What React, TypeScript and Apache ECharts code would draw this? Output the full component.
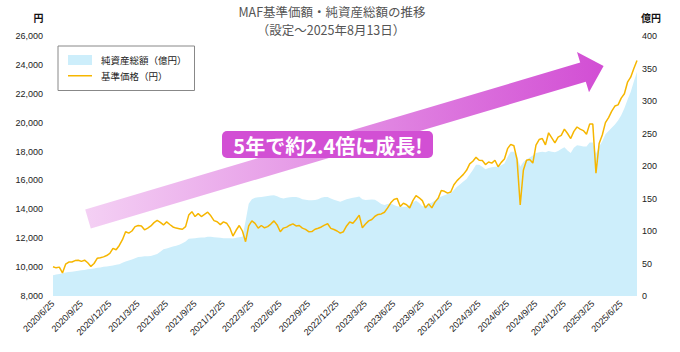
import { useEffect, useRef } from 'react';
import * as echarts from 'echarts';

const CJK = '"Noto Sans CJK JP", "Liberation Sans", sans-serif';
const LAT = '"Liberation Sans", Arial, sans-serif';

const NAV_NAME = '純資産総額（億円）';
const PRICE_NAME = '基準価格（円）';

// Date categories: set date, then the 5th / 15th / 25th of each month, to 2025/8/13
const dates: string[] = ['2020/6/25'];
for (let y = 2020, m = 7; y < 2025 || (y === 2025 && m <= 7); ) {
  dates.push(`${y}/${m}/5`, `${y}/${m}/15`, `${y}/${m}/25`);
  m++;
  if (m > 12) { m = 1; y++; }
}
dates.push('2025/8/5', '2025/8/13');

// 基準価格（円）
const price: number[] = [
  10030, 9950, 10000, 9600, 10200, 10350, 10350, 10450, 10480, 10400,
  10480, 10300, 10050, 10250, 10610, 10650, 10710, 10800, 10950, 11300,
  11200, 11500, 11900, 12450, 12350, 12500, 12800, 12880, 12850, 12580,
  12700, 12850, 13080, 13230, 13100, 12920, 13130, 12950, 12780, 12700,
  12660, 12620, 12800, 13600, 13840, 13500, 13700, 13500, 13650, 13800,
  13550, 13220, 13140, 12940, 13130, 13040, 12720, 12150, 12550, 12880,
  12500, 11760, 12850, 13200, 13030, 12700, 12880, 12720, 12800, 12980,
  13200, 12920, 12450, 12700, 12770, 12900, 12990, 12850, 12880, 12700,
  12610, 12450, 12460, 12620, 12690, 12780, 12910, 13000, 12680, 12600,
  12500, 12350, 12450, 12850, 13120, 13040, 13300, 13600, 12720, 12980,
  13200, 13300, 13520, 13650, 13680, 13800, 14100, 14450, 14680, 14760,
  14200, 14420, 14320, 14100, 14600, 14950, 14800, 14600, 14100, 14380,
  14100, 14500, 14760, 15300, 15250, 15120, 15200, 15700, 15990, 16200,
  16420, 16700, 17150, 17330, 17600, 17400, 17380, 17100, 17280, 17200,
  17400, 16950, 17250, 17480, 18200, 18500, 18400, 17450, 14300, 16700,
  17400, 17450, 17200, 18450, 18830, 18900, 18460, 19300, 18950, 18600,
  19000, 19120, 19550, 19250, 18900, 19400, 19700, 19550, 19450, 19200,
  19900, 19900, 16500, 18550, 19150, 20000, 20350, 20800, 21150, 21230,
  21700, 22000, 22800, 23150, 23750, 24300,
];

// 純資産総額（億円）
const nav: number[] = [
  32, 33, 34, 35, 36, 37, 37.5, 38, 39, 39.5,
  40, 41, 41.5, 42.5, 43.5, 44, 45, 45.5, 46, 47,
  48, 49, 51, 53, 54.5, 56, 58, 60, 60.5, 61,
  61, 61.5, 63, 64.5, 68, 72, 73, 74.5, 76, 77.5,
  79, 81, 84, 88, 88.5, 89, 89.5, 90, 90, 91,
  91, 90.5, 90, 89.5, 89, 89, 89, 88.5, 89.5, 90.5,
  91, 115, 142, 149, 151, 152, 152.5, 153, 154, 154.5,
  155, 153.5, 151, 150, 151, 152, 152.5, 152.5, 151, 149,
  148, 147.5, 147.5, 147.7, 149, 151, 152.5, 152.5, 150, 148,
  146.5, 145, 147, 149, 150, 151, 152, 153, 149, 147.7,
  148, 148.5, 148, 145, 141.5, 140, 141.5, 142.6, 140, 138,
  137.4, 137.4, 137.5, 140, 144, 147, 143, 138, 139, 142,
  144, 147, 151, 153, 155, 157, 158, 163, 168, 172,
  176, 180, 187, 194, 202, 202, 199, 195, 197, 198,
  199, 199, 201, 204, 214, 222, 222, 215, 199, 206,
  210, 213, 216, 220, 221, 222, 221, 223, 222, 221,
  223, 226, 229, 224, 220, 228, 232, 231, 230, 230,
  236, 236, 219, 230, 238, 249, 254, 259, 264, 270,
  278, 289, 302, 314, 330, 345,
];

const TITLE1 = 'MAF基準価額・純資産総額の推移';
const TITLE2 = '（設定～2025年8月13日）';
const CALLOUT = '5年で約2.4倍に成長!';

function txt(x: number, y: number, text: string, extra: any) {
  return {
    type: 'text',
    x,
    y,
    z: 100,
    style: {
      text,
      align: 'center',
      verticalAlign: 'middle',
      textAlign: 'center',
      textVerticalAlign: 'middle',
      ...extra,
    },
  };
}

export default function App() {
  const ref = useRef<HTMLDivElement>(null);
  useEffect(() => {
    const chart = echarts.init(ref.current!, null, { renderer: 'svg' });
    chart.setOption({
      animation: false,
      backgroundColor: '#fff',
      grid: { left: 53, right: 43, top: 36, bottom: 56, containLabel: false },
      legend: {
        orient: 'vertical',
        left: 58,
        top: 46,
        itemWidth: 24,
        itemHeight: 10,
        itemGap: 6,
        padding: [9, 8, 10, 10],
        borderColor: '#888',
        borderWidth: 1,
        textStyle: { fontSize: 9.5, color: '#222', fontFamily: CJK, padding: [0, 0, 0, 4] },
        data: [
          { name: NAV_NAME, icon: 'rect' },
          { name: PRICE_NAME, icon: 'path://M0,0H24V1.5H0Z' },
        ],
      },
      xAxis: {
        type: 'category',
        data: dates,
        boundaryGap: false,
        axisLine: { show: false },
        axisTick: { show: false },
        splitLine: { show: false },
        axisLabel: {
          interval: 8,
          rotate: 45,
          fontSize: 9,
          color: '#222',
          fontFamily: LAT,
          margin: 6,
        },
      },
      yAxis: [
        {
          type: 'value',
          position: 'left',
          min: 8000,
          max: 26000,
          interval: 2000,
          axisLine: { show: false },
          axisTick: { show: false },
          splitLine: { show: false },
          axisLabel: {
            fontSize: 9,
            color: '#222',
            fontFamily: LAT,
            margin: 10,
            formatter: (v: number) => v.toLocaleString('en-US'),
          },
        },
        {
          type: 'value',
          position: 'right',
          min: 0,
          max: 400,
          interval: 50,
          axisLine: { show: false },
          axisTick: { show: false },
          splitLine: { show: false },
          axisLabel: { fontSize: 9, color: '#222', fontFamily: LAT, margin: 5 },
        },
      ],
      series: [
        {
          name: NAV_NAME,
          type: 'line',
          yAxisIndex: 1,
          data: nav,
          symbol: 'none',
          lineStyle: { width: 0, color: '#cdeefb' },
          itemStyle: { color: '#cdeefb' },
          areaStyle: { color: '#cdeefb', opacity: 1 },
          z: 1,
        },
        {
          name: PRICE_NAME,
          type: 'line',
          yAxisIndex: 0,
          data: price,
          symbol: 'none',
          lineStyle: { width: 1.5, color: '#f6b600' },
          itemStyle: { color: '#f6b600' },
          z: 2,
        },
      ],
      graphic: [
        txt(332, 11.3, TITLE1, { fill: '#555', fontSize: 12.5, fontFamily: CJK }),
        txt(331, 29.6, TITLE2, { fill: '#555', fontSize: 12.5, fontFamily: CJK }),
        txt(38.5, 17, '円', { fill: '#111', fontSize: 10, fontWeight: 'bold', fontFamily: CJK }),
        txt(651, 17, '億円', { fill: '#111', fontSize: 10, fontWeight: 'bold', fontFamily: CJK }),
        {
          type: 'polygon',
          z: 50,
          shape: {
            points: [
              [85.2, 209.4],
              [580.2, 62.6],
              [577.0, 52.1],
              [603.6, 66.1],
              [589.0, 92.3],
              [585.8, 81.8],
              [90.8, 228.6],
            ],
          },
          style: {
            fill: {
              type: 'linear',
              x: 0,
              y: 0,
              x2: 1,
              y2: 0,
              colorStops: [
                { offset: 0, color: '#f4d0f4' },
                { offset: 1, color: '#d24ed4' },
              ],
            },
          },
        },
        {
          type: 'rect',
          z: 60,
          shape: { x: 222, y: 131, width: 211, height: 27, r: 5 },
          style: { fill: '#d24fd4' },
        },
        txt(328, 145, CALLOUT, { fill: '#fff', fontSize: 20, fontWeight: 'bold', fontFamily: CJK }),
      ],
    });
    return () => chart.dispose();
  }, []);
  return (
    <div
      ref={ref}
      style={{ position: 'fixed', left: 0, top: 0, width: 680, height: 352 }}
    />
  );
}
